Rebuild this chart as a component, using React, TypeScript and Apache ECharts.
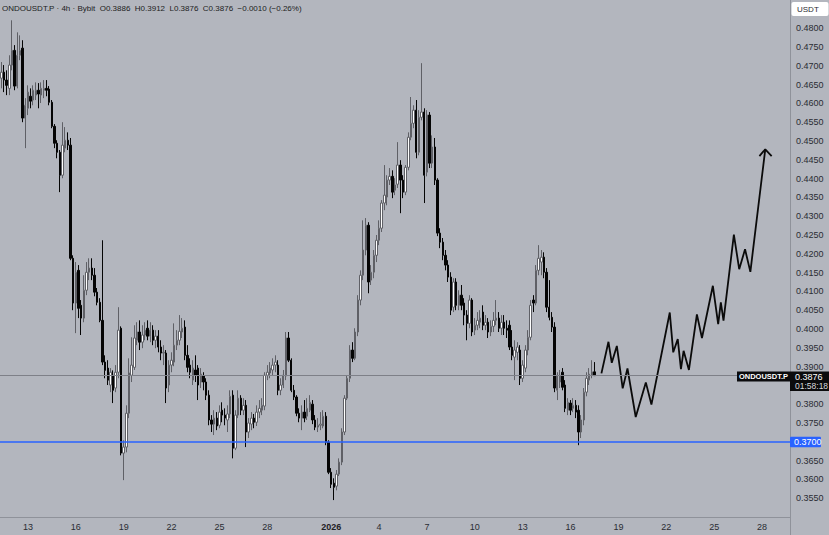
import React, { useEffect, useRef } from "react";
import * as echarts from "echarts";

// ---------- DATA ----------
const symbol = "ONDOUSDT.P";
const timeframe = "4h";
const exchange = "Bybit";
const quote = "USDT";

// first 4h slot shown on the axis and number of slots on the axis
const firstSlotUTC = Date.UTC(2025, 11, 11, 8);
const slotCount = 297;

const xTickDates = [
  "2025-12-13", "2025-12-16", "2025-12-19", "2025-12-22", "2025-12-25", "2025-12-28",
  "2026-01-01", "2026-01-04", "2026-01-07", "2026-01-10", "2026-01-13", "2026-01-16",
  "2026-01-19", "2026-01-22", "2026-01-25", "2026-01-28",
];
const xTickTexts = ["13", "16", "19", "22", "25", "28", "2026", "4", "7", "10", "13", "16", "19", "22", "25", "28"];

// [open, close, low, high]
const candles: number[][] = [
  [0.4667, 0.4683, 0.4640, 0.4710], [0.4683, 0.4662, 0.4630, 0.4702], [0.4662, 0.4648, 0.4622, 0.4688],
  [0.4640, 0.4702, 0.4622, 0.4728], [0.4702, 0.4741, 0.4688, 0.4821], [0.4741, 0.4646, 0.4635, 0.4755],
  [0.4646, 0.4728, 0.4640, 0.4789], [0.4728, 0.4741, 0.4715, 0.4781], [0.4747, 0.4561, 0.4550, 0.4768],
  [0.4561, 0.4595, 0.4481, 0.4614], [0.4587, 0.4630, 0.4569, 0.4648], [0.4619, 0.4606, 0.4587, 0.4640],
  [0.4609, 0.4635, 0.4595, 0.4648], [0.4622, 0.4635, 0.4609, 0.4656], [0.4635, 0.4625, 0.4587, 0.4654],
  [0.4622, 0.4640, 0.4601, 0.4656], [0.4635, 0.4640, 0.4614, 0.4662], [0.4640, 0.4635, 0.4619, 0.4662],
  [0.4638, 0.4603, 0.4595, 0.4646], [0.4603, 0.4539, 0.4534, 0.4609], [0.4539, 0.4494, 0.4481, 0.4545],
  [0.4494, 0.4470, 0.4454, 0.4502], [0.4470, 0.4409, 0.4364, 0.4476], [0.4409, 0.4489, 0.4401, 0.4550],
  [0.4481, 0.4502, 0.4470, 0.4537], [0.4502, 0.4489, 0.4476, 0.4523], [0.4489, 0.4188, 0.4183, 0.4508],
  [0.4188, 0.4069, 0.4050, 0.4196], [0.4069, 0.4151, 0.3989, 0.4178], [0.4156, 0.4055, 0.4029, 0.4170],
  [0.4063, 0.4029, 0.3984, 0.4077], [0.4029, 0.4103, 0.4018, 0.4143], [0.4103, 0.4151, 0.4090, 0.4178],
  [0.4151, 0.4162, 0.4130, 0.4188], [0.4162, 0.4143, 0.4130, 0.4188], [0.4143, 0.4098, 0.4087, 0.4162],
  [0.4098, 0.4071, 0.4063, 0.4109], [0.4071, 0.4023, 0.4018, 0.4082], [0.4023, 0.3912, 0.3904, 0.4236],
  [0.3912, 0.3890, 0.3869, 0.3930], [0.3896, 0.3864, 0.3851, 0.3917], [0.3851, 0.3885, 0.3832, 0.3896],
  [0.3877, 0.3837, 0.3803, 0.3890], [0.3843, 0.3885, 0.3832, 0.3904], [0.3885, 0.3997, 0.3869, 0.4058],
  [0.4002, 0.3670, 0.3664, 0.4007], [0.3670, 0.3686, 0.3598, 0.3704], [0.3686, 0.3776, 0.3672, 0.3797],
  [0.3776, 0.3883, 0.3763, 0.3922], [0.3877, 0.3904, 0.3859, 0.3978], [0.3898, 0.3976, 0.3891, 0.4010],
  [0.3970, 0.3992, 0.3957, 0.4018], [0.3992, 0.3965, 0.3944, 0.4023], [0.3965, 0.3984, 0.3949, 0.4010],
  [0.3984, 0.3997, 0.3970, 0.4018], [0.4002, 0.3981, 0.3970, 0.4023], [0.3981, 0.3997, 0.3965, 0.4018],
  [0.3997, 0.3970, 0.3957, 0.4010], [0.3970, 0.3981, 0.3949, 0.3997], [0.3981, 0.3952, 0.3938, 0.3997],
  [0.3952, 0.3936, 0.3917, 0.3970], [0.3936, 0.3938, 0.3904, 0.3957], [0.3936, 0.3843, 0.3803, 0.3944],
  [0.3851, 0.3904, 0.3832, 0.3917], [0.3904, 0.3917, 0.3885, 0.3938], [0.3912, 0.3957, 0.3901, 0.4015],
  [0.3957, 0.3970, 0.3944, 0.3997], [0.3970, 0.3994, 0.3957, 0.4037], [0.3992, 0.4002, 0.3976, 0.4029],
  [0.4005, 0.3930, 0.3917, 0.4023], [0.3930, 0.3898, 0.3885, 0.3957], [0.3904, 0.3885, 0.3869, 0.3922],
  [0.3864, 0.3896, 0.3851, 0.3917], [0.3891, 0.3877, 0.3859, 0.3930], [0.3896, 0.3851, 0.3811, 0.3904],
  [0.3859, 0.3880, 0.3843, 0.3896], [0.3875, 0.3859, 0.3837, 0.3885], [0.3859, 0.3824, 0.3811, 0.3869],
  [0.3824, 0.3758, 0.3744, 0.3837], [0.3758, 0.3747, 0.3726, 0.3771], [0.3747, 0.3763, 0.3718, 0.3784],
  [0.3763, 0.3742, 0.3731, 0.3779], [0.3744, 0.3779, 0.3736, 0.3797], [0.3784, 0.3771, 0.3752, 0.3805],
  [0.3771, 0.3763, 0.3744, 0.3789], [0.3758, 0.3774, 0.3726, 0.3797], [0.3774, 0.3821, 0.3763, 0.3837],
  [0.3824, 0.3683, 0.3656, 0.3837], [0.3683, 0.3771, 0.3678, 0.3784], [0.3771, 0.3816, 0.3763, 0.3837],
  [0.3816, 0.3784, 0.3771, 0.3824], [0.3784, 0.3797, 0.3771, 0.3816], [0.3797, 0.3726, 0.3686, 0.3811],
  [0.3726, 0.3750, 0.3710, 0.3763], [0.3747, 0.3763, 0.3731, 0.3779], [0.3763, 0.3752, 0.3736, 0.3774],
  [0.3752, 0.3779, 0.3742, 0.3797], [0.3779, 0.3789, 0.3763, 0.3811], [0.3784, 0.3797, 0.3771, 0.3816],
  [0.3795, 0.3877, 0.3784, 0.3885], [0.3877, 0.3885, 0.3864, 0.3904], [0.3883, 0.3896, 0.3869, 0.3912],
  [0.3891, 0.3904, 0.3877, 0.3922], [0.3904, 0.3912, 0.3885, 0.3930], [0.3904, 0.3837, 0.3824, 0.3917],
  [0.3837, 0.3851, 0.3824, 0.3869], [0.3851, 0.3877, 0.3843, 0.3891], [0.3875, 0.3976, 0.3864, 0.3992],
  [0.3976, 0.3917, 0.3912, 0.3992], [0.3917, 0.3837, 0.3832, 0.3922], [0.3837, 0.3819, 0.3811, 0.3851],
  [0.3819, 0.3776, 0.3768, 0.3824], [0.3776, 0.3763, 0.3752, 0.3789], [0.3763, 0.3779, 0.3731, 0.3797],
  [0.3779, 0.3763, 0.3752, 0.3811], [0.3768, 0.3789, 0.3758, 0.3816], [0.3784, 0.3805, 0.3779, 0.3824],
  [0.3800, 0.3758, 0.3747, 0.3811], [0.3758, 0.3739, 0.3731, 0.3771], [0.3739, 0.3744, 0.3726, 0.3763],
  [0.3744, 0.3747, 0.3731, 0.3779], [0.3742, 0.3768, 0.3736, 0.3784], [0.3768, 0.3699, 0.3691, 0.3779],
  [0.3699, 0.3619, 0.3614, 0.3704], [0.3619, 0.3587, 0.3577, 0.3630], [0.3590, 0.3579, 0.3545, 0.3603],
  [0.3582, 0.3614, 0.3571, 0.3625], [0.3614, 0.3646, 0.3609, 0.3656], [0.3646, 0.3726, 0.3638, 0.3736],
  [0.3726, 0.3816, 0.3718, 0.3824], [0.3816, 0.3869, 0.3811, 0.3877], [0.3869, 0.3944, 0.3859, 0.3957],
  [0.3944, 0.3922, 0.3912, 0.3965], [0.3922, 0.3992, 0.3917, 0.4002], [0.3992, 0.4077, 0.3981, 0.4090],
  [0.4077, 0.4143, 0.4063, 0.4156], [0.4143, 0.4210, 0.4130, 0.4289], [0.4210, 0.4276, 0.4196, 0.4295],
  [0.4276, 0.4125, 0.4095, 0.4284], [0.4130, 0.4151, 0.4117, 0.4170], [0.4151, 0.4196, 0.4135, 0.4210],
  [0.4196, 0.4236, 0.4178, 0.4250], [0.4236, 0.4268, 0.4223, 0.4289], [0.4268, 0.4335, 0.4258, 0.4343],
  [0.4335, 0.4356, 0.4316, 0.4436], [0.4351, 0.4396, 0.4329, 0.4409], [0.4396, 0.4406, 0.4383, 0.4428],
  [0.4406, 0.4364, 0.4348, 0.4422], [0.4369, 0.4383, 0.4356, 0.4401], [0.4385, 0.4436, 0.4375, 0.4497],
  [0.4436, 0.4396, 0.4308, 0.4449], [0.4396, 0.4364, 0.4348, 0.4409], [0.4364, 0.4430, 0.4356, 0.4436],
  [0.4430, 0.4510, 0.4422, 0.4523], [0.4510, 0.4547, 0.4502, 0.4617], [0.4547, 0.4582, 0.4534, 0.4595],
  [0.4582, 0.4470, 0.4454, 0.4609], [0.4470, 0.4563, 0.4462, 0.4582], [0.4563, 0.4577, 0.4555, 0.4707],
  [0.4577, 0.4409, 0.4335, 0.4587], [0.4417, 0.4569, 0.4406, 0.4582], [0.4569, 0.4441, 0.4428, 0.4577],
  [0.4441, 0.4484, 0.4428, 0.4515], [0.4484, 0.4396, 0.4383, 0.4508], [0.4396, 0.4255, 0.4247, 0.4401],
  [0.4255, 0.4231, 0.4215, 0.4268], [0.4231, 0.4196, 0.4183, 0.4242], [0.4196, 0.4170, 0.4156, 0.4210],
  [0.4170, 0.4138, 0.4125, 0.4183], [0.4138, 0.4050, 0.4037, 0.4151], [0.4058, 0.4125, 0.4045, 0.4135],
  [0.4125, 0.4063, 0.4050, 0.4135], [0.4063, 0.4090, 0.4050, 0.4103], [0.4090, 0.4063, 0.4050, 0.4117],
  [0.4069, 0.4037, 0.4010, 0.4082], [0.4037, 0.4015, 0.3970, 0.4050], [0.4015, 0.4077, 0.4002, 0.4090],
  [0.4077, 0.3992, 0.3981, 0.4082], [0.3997, 0.4010, 0.3984, 0.4029], [0.4010, 0.4023, 0.3997, 0.4045],
  [0.4018, 0.4029, 0.4002, 0.4050], [0.4045, 0.4010, 0.3997, 0.4063], [0.4010, 0.4018, 0.3997, 0.4037],
  [0.4018, 0.3992, 0.3976, 0.4029], [0.3992, 0.4007, 0.3981, 0.4023], [0.4007, 0.4023, 0.3992, 0.4045],
  [0.4023, 0.4029, 0.4010, 0.4077], [0.4029, 0.4002, 0.3992, 0.4045], [0.4002, 0.4018, 0.3984, 0.4037],
  [0.4018, 0.4002, 0.3984, 0.4037], [0.4002, 0.3997, 0.3976, 0.4023], [0.4010, 0.3952, 0.3944, 0.4023],
  [0.3952, 0.3930, 0.3917, 0.3997], [0.3925, 0.3944, 0.3864, 0.3970], [0.3938, 0.3952, 0.3917, 0.3965],
  [0.3944, 0.3869, 0.3851, 0.3957], [0.3869, 0.3904, 0.3859, 0.3917], [0.3896, 0.3944, 0.3885, 0.3957],
  [0.3944, 0.3978, 0.3930, 0.3997], [0.3978, 0.4063, 0.3970, 0.4077], [0.4077, 0.4069, 0.4045, 0.4090],
  [0.4069, 0.4156, 0.4063, 0.4170], [0.4156, 0.4188, 0.4143, 0.4223], [0.4178, 0.4191, 0.4143, 0.4210],
  [0.4191, 0.4151, 0.4135, 0.4204], [0.4151, 0.4058, 0.4045, 0.4162], [0.4058, 0.4031, 0.4023, 0.4130],
  [0.4031, 0.4005, 0.3992, 0.4045], [0.4005, 0.3843, 0.3832, 0.4018], [0.3837, 0.3877, 0.3811, 0.3885],
  [0.3859, 0.3877, 0.3843, 0.3891], [0.3885, 0.3845, 0.3837, 0.3896], [0.3851, 0.3789, 0.3779, 0.3864],
  [0.3784, 0.3805, 0.3771, 0.3816], [0.3803, 0.3784, 0.3771, 0.3811], [0.3789, 0.3797, 0.3779, 0.3816],
  [0.3797, 0.3779, 0.3763, 0.3811], [0.3784, 0.3726, 0.3691, 0.3797], [0.3726, 0.3758, 0.3710, 0.3771],
  [0.3758, 0.3832, 0.3744, 0.3843], [0.3832, 0.3869, 0.3821, 0.3885], [0.3864, 0.3880, 0.3851, 0.3896],
  [0.3877, 0.3886, 0.3869, 0.3917], [0.3886, 0.3876, 0.3876, 0.3912],
];

// drawn projection: [slot index, price]
const forecastPath: number[][] = [
  [225.6, 0.3882], [228.25, 0.3966], [229.5, 0.3910], [231.4, 0.3955], [233.6, 0.3842],
  [235.4, 0.3895], [238.5, 0.3766], [242.3, 0.3858], [244.4, 0.3799], [251.3, 0.4044],
  [252.6, 0.3938], [254.3, 0.3973], [255.5, 0.3893], [256.5, 0.3942], [258.5, 0.3891],
  [261.5, 0.4039], [263.4, 0.3976], [267.5, 0.4115], [269.5, 0.4013], [270.5, 0.4071],
  [271.5, 0.4022], [275.4, 0.4251], [277.4, 0.4159], [279.6, 0.4212], [281.6, 0.4152],
  [287.2, 0.4478],
];
const forecastArrow: number[][] = [[285.0, 0.4460], [287.2, 0.4478], [289.6, 0.4460]];

const supportLevel = 0.37;
const countdown = "01:58:18";
const yMin = 0.35;
const yMax = 0.4875;
const yStep = 0.005;

// ---------- helpers ----------
const pad = (n: number) => (n < 10 ? "0" + n : "" + n);
const slotKey = (i: number) => {
  const d = new Date(firstSlotUTC + i * 4 * 3600 * 1000);
  return `${d.getUTCFullYear()}-${pad(d.getUTCMonth() + 1)}-${pad(d.getUTCDate())} ${pad(d.getUTCHours())}:00`;
};
const categories = Array.from({ length: slotCount }, (_, i) => slotKey(i));
const tickMap: Record<string, string> = {};
xTickDates.forEach((d, i) => (tickMap[d + " 00:00"] = xTickTexts[i]));

const BG = "#b3b6be";
const FONT = "'Liberation Sans', Arial, sans-serif";

export default function App() {
  const ref = useRef<HTMLDivElement>(null);

  useEffect(() => {
    document.body.style.margin = "0";
    const chart = echarts.init(ref.current!, null, { renderer: "svg" });
    const last = candles[candles.length - 1];
    const prev = candles[candles.length - 2];
    const lastClose = last[1];
    const chg = lastClose - prev[1];
    const chgPct = (chg / prev[1]) * 100;
    const fmtSigned = (v: number, d: number) => (v < 0 ? "\u2212" : "+") + Math.abs(v).toFixed(d);
    // axis labels hidden behind the price boxes (as in a trading terminal)
    const covered = (v: number) =>
      (v < lastClose && lastClose - v < 0.003) || Math.abs(v - supportLevel) < 0.001;

    chart.setOption({
      animation: false,
      backgroundColor: BG,
      textStyle: { fontFamily: FONT },
      grid: { left: 0, right: 39, top: 0, bottom: 18 },
      xAxis: [
        {
          type: "category",
          data: categories,
          boundaryGap: true,
          axisLine: { show: false },
          axisTick: { show: false },
          splitLine: { show: false },
          axisLabel: {
            interval: (_i: number, v: string) => tickMap[v] !== undefined,
            formatter: (v: string) => {
              const t = tickMap[v];
              if (t === undefined) return "";
              return t.length === 4 ? `{b|${t}}` : t;
            },
            rich: { b: { fontWeight: "bold", fontSize: 9, color: "#1f2126", fontFamily: FONT } },
            fontSize: 9,
            color: "#2a2c33",
            margin: 5,
            fontFamily: FONT,
            hideOverlap: false,
          },
        },
        {
          type: "value",
          min: -0.5,
          max: slotCount - 0.5,
          show: false,
        },
      ],
      yAxis: {
        type: "value",
        position: "right",
        min: yMin,
        max: yMax,
        interval: yStep,
        scale: true,
        axisLine: { show: false },
        axisTick: { show: false },
        splitLine: { show: false },
        axisLabel: {
          fontSize: 9,
          color: "#2a2c33",
          margin: 6,
          fontFamily: FONT,
          showMinLabel: false,
          formatter: (v: number) => (v > 0.4825 || v < 0.3525 || covered(v) ? "" : v.toFixed(4)),
        },
      },
      series: [
        {
          type: "candlestick",
          xAxisIndex: 0,
          yAxisIndex: 0,
          data: candles,
          barWidth: "72%",
          itemStyle: {
            color: "#ffffff",
            color0: "#050505",
            borderColor: "#5f6066",
            borderColor0: "#050505",
            borderWidth: 1,
          },
          z: 2,
        },
        {
          type: "line",
          xAxisIndex: 1,
          yAxisIndex: 0,
          data: forecastPath,
          showSymbol: false,
          symbol: "none",
          lineStyle: { color: "#0a0a0a", width: 1.8 },
          markLine: {
            silent: true,
            precision: 4,
            symbol: ["none", "none"],
            label: { show: false },
            data: [
              { yAxis: lastClose, lineStyle: { color: "#7e8088", width: 1, type: "solid" } },
              { yAxis: supportLevel, lineStyle: { color: "#2962ff", width: 1.5, type: "solid" } },
            ],
          },
          z: 3,
        },
        {
          type: "line",
          xAxisIndex: 1,
          yAxisIndex: 0,
          data: forecastArrow,
          showSymbol: false,
          symbol: "none",
          lineStyle: { color: "#0a0a0a", width: 1.8 },
          z: 3,
        },
      ],
    });

    const yLast = chart.convertToPixel({ yAxisIndex: 0 }, lastClose) as number;
    const ySup = chart.convertToPixel({ yAxisIndex: 0 }, supportLevel) as number;
    const headerText = `${symbol} \u00b7 ${timeframe} \u00b7 ${exchange}  O${last[0].toFixed(4)}  H${last[3].toFixed(
      4
    )}  L${last[2].toFixed(4)}  C${last[1].toFixed(4)}  ${fmtSigned(chg, 4)} (${fmtSigned(chgPct, 2)}%)`;

    chart.setOption({
      graphic: [
        { type: "line", shape: { x1: 790.5, y1: 0, x2: 790.5, y2: 535 }, style: { stroke: "#8f929a", lineWidth: 1 }, z: 50 },
        { type: "line", shape: { x1: 0, y1: 517.5, x2: 790.5, y2: 517.5 }, style: { stroke: "#8f929a", lineWidth: 1 }, z: 50 },
        {
          type: "text",
          x: 2,
          y: 8,
          style: { text: headerText, fontSize: 8, fill: "#1c1d22", fontFamily: FONT, verticalAlign: "middle" },
          z: 50,
        },
        { type: "rect", shape: { x: 791.5, y: 2, width: 37, height: 14, r: 2 }, style: { fill: "#ffffff" }, z: 50 },
        {
          type: "text",
          x: 797,
          y: 9.5,
          style: { text: quote, fontSize: 8, fill: "#2a2c33", fontFamily: FONT, verticalAlign: "middle" },
          z: 51,
        },
        { type: "rect", shape: { x: 737, y: yLast - 4, width: 53, height: 10 }, style: { fill: "#0b0b0d" }, z: 50 },
        {
          type: "text",
          x: 763.5,
          y: yLast + 1,
          style: {
            text: symbol,
            fontSize: 7.5,
            fontWeight: "bold",
            fill: "#ffffff",
            fontFamily: FONT,
            align: "center",
            verticalAlign: "middle",
          },
          z: 51,
        },
        { type: "rect", shape: { x: 790, y: yLast - 4, width: 39, height: 19.5 }, style: { fill: "#0b0b0d" }, z: 50 },
        {
          type: "text",
          x: 795,
          y: yLast + 1,
          style: { text: lastClose.toFixed(4), fontSize: 9, fill: "#ffffff", fontFamily: FONT, verticalAlign: "middle" },
          z: 51,
        },
        {
          type: "text",
          x: 795,
          y: yLast + 10.5,
          style: { text: countdown, fontSize: 8.5, fill: "#d8d9dc", fontFamily: FONT, verticalAlign: "middle" },
          z: 51,
        },
        { type: "rect", shape: { x: 790, y: ySup - 5, width: 31, height: 10.5, r: 1 }, style: { fill: "#2962ff" }, z: 50 },
        {
          type: "text",
          x: 794,
          y: ySup + 0.5,
          style: { text: supportLevel.toFixed(4), fontSize: 9, fill: "#ffffff", fontFamily: FONT, verticalAlign: "middle" },
          z: 51,
        },
      ],
    });

    return () => chart.dispose();
  }, []);

  return (
    <div
      ref={ref}
      style={{ position: "fixed", left: 0, top: 0, width: 829, height: 535, background: BG }}
    />
  );
}
